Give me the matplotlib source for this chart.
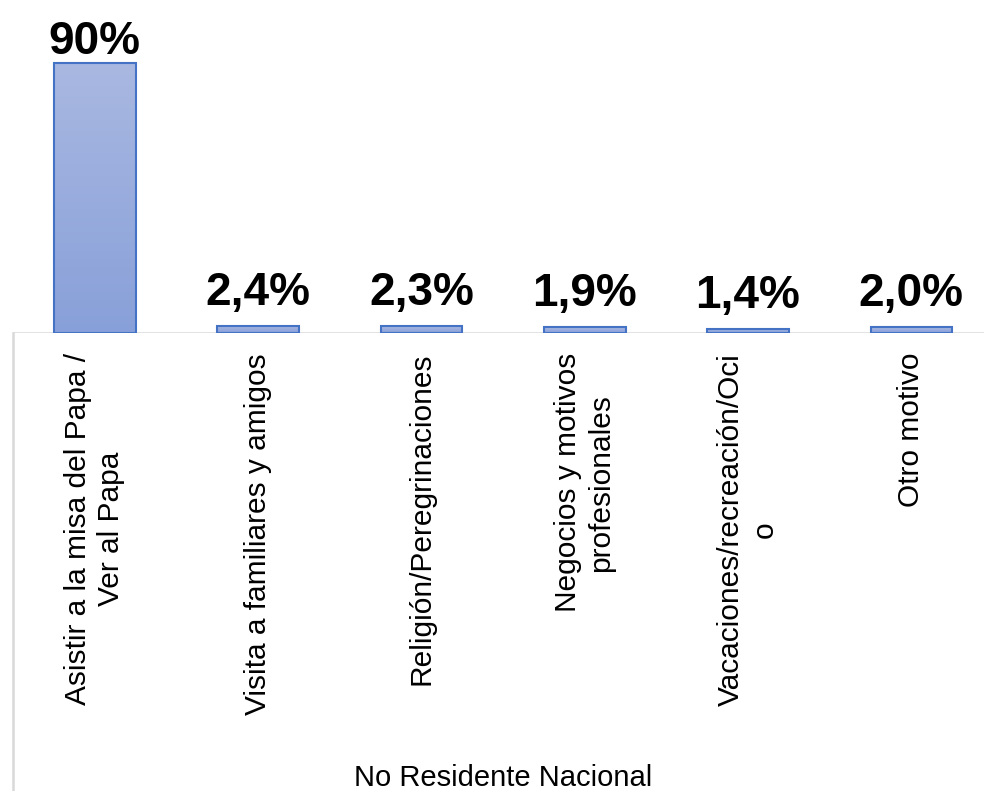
import matplotlib
matplotlib.use("Agg")
import matplotlib.pyplot as plt
import numpy as np
from matplotlib.lines import Line2D

categories = [
    "Asistir a la misa del Papa /\nVer al Papa",
    "Visita a familiares y amigos",
    "Religión/Peregrinaciones",
    "Negocios y motivos\nprofesionales",
    "Vacaciones/recreación/Oci\no",
    "Otro motivo",
]
values = [90, 2.4, 2.3, 1.9, 1.4, 2.0]
value_labels = ["90%", "2,4%", "2,3%", "1,9%", "1,4%", "2,0%"]
axis_title = "No Residente Nacional"

W, H = 984, 791
fig = plt.figure(figsize=(W / 100, H / 100), dpi=100)
axis_y = 333
ax = fig.add_axes([13 / W, (H - axis_y) / H, 980 / W, axis_y / H])
ax.set_xlim(-0.5, len(categories) - 0.5)
ax.set_ylim(0, 111)
for s in ax.spines.values():
    s.set_visible(False)
ax.set_xticks([])
ax.set_yticks([])

x = np.arange(len(categories))
bars = ax.bar(x, values, width=0.5, color="none", edgecolor="#4472c4", linewidth=1.5, zorder=3)

top_col = np.array([0xa9, 0xb8, 0xe1]) / 255
bot_col = np.array([0x88, 0xa0, 0xd9]) / 255
grad = np.linspace(0, 1, 256)[:, None]
img = top_col[None, None, :] * (1 - grad[:, :, None]) + bot_col[None, None, :] * grad[:, :, None]
for b in bars:
    x0, w, h = b.get_x(), b.get_width(), b.get_height()
    im = ax.imshow(img, extent=[x0, x0 + w, 0, h], origin="upper", aspect="auto", zorder=2)
    im.set_clip_path(b)

for xi, v, lab in zip(x, values, value_labels):
    y = min(v + 7, 93.0)
    ax.text(xi, y, lab, ha="center", va="baseline", fontsize=33,
            fontweight="bold", family="Liberation Sans", color="black")

# axis line
ax.axhline(0, color="#d9d9d9", linewidth=1.8, zorder=1)
fig.add_artist(Line2D([13 / W, 13 / W], [0, (H - axis_y) / H], color="#d9d9d9", linewidth=1.8,
                      transform=fig.transFigure))

for xi, cat in zip(x, categories):
    ax.text(xi, -0.06, cat, transform=ax.get_xaxis_transform(), rotation=90,
            ha="center", va="top", multialignment="center", fontsize=21.5,
            family="Liberation Sans", linespacing=1.25, color="black")

fig.text((13 + 490) / W, (H - 778) / H, axis_title, ha="center", va="center",
         fontsize=21, family="Liberation Sans", color="black")

fig.savefig("out.png", dpi=100, facecolor="white")
